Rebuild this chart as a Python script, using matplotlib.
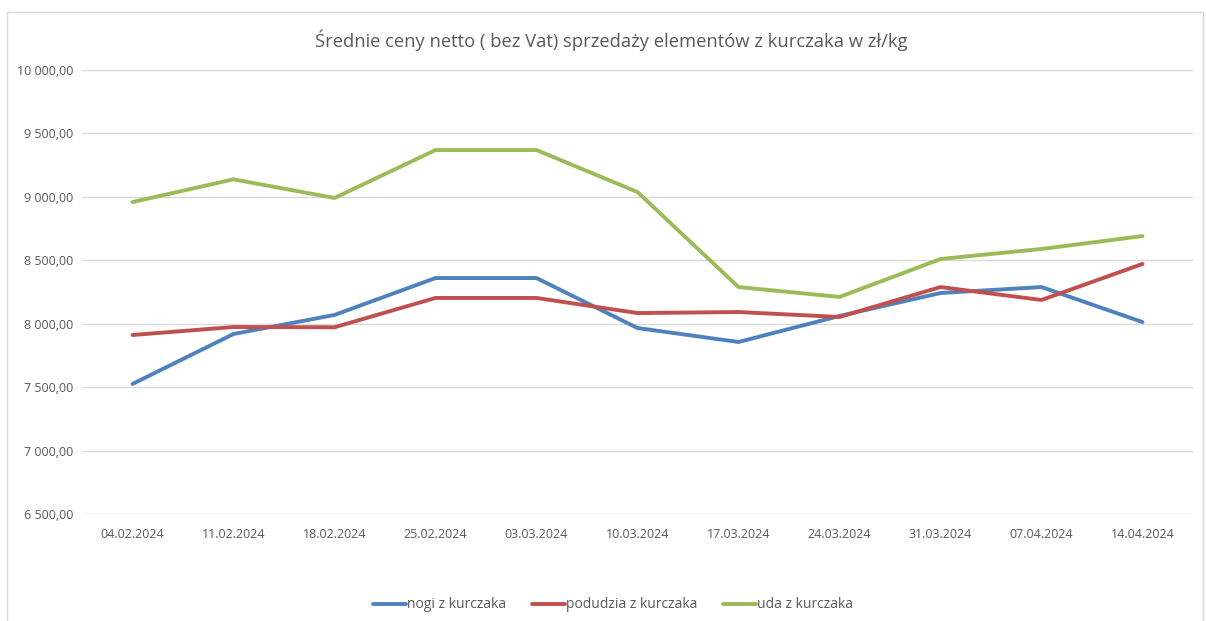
import matplotlib.pyplot as plt
from matplotlib.patches import Rectangle
from matplotlib.ticker import FuncFormatter

# weekly dates
dates = ['04.02.2024', '11.02.2024', '18.02.2024', '25.02.2024', '03.03.2024',
         '10.03.2024', '17.03.2024', '24.03.2024', '31.03.2024', '07.04.2024',
         '14.04.2024']

nogi = [7525, 7919, 8069, 8360, 8360, 7966, 7856, 8061, 8242, 8289, 8013]
podudzia = [7911, 7974, 7972, 8203, 8203, 8084, 8092, 8053, 8289, 8187, 8471]
uda = [8959, 9138, 8991, 9369, 9369, 9038, 8289, 8211, 8510, 8589, 8691]

plt.rcParams['font.family'] = ['Open Sans', 'DejaVu Sans']

fig = plt.figure(figsize=(12.06, 6.21), dpi=100)
ax = fig.add_axes([82 / 1206, 1 - 514 / 621, 1111 / 1206, 444 / 621])

# outer chart border (bottom edge is cut off in the original)
fig.patches.append(Rectangle((7 / 1206, -0.05), 1196 / 1206, 1.05 - 12 / 621,
                             transform=fig.transFigure, fill=False,
                             edgecolor='#D9D9D9', linewidth=1))

x = range(len(dates))
ax.plot(x, nogi, color='#4F81BD', lw=2.8, label='nogi z kurczaka', solid_capstyle='round')
ax.plot(x, podudzia, color='#C0504D', lw=2.8, label='podudzia z kurczaka', solid_capstyle='round')
ax.plot(x, uda, color='#9BBB59', lw=2.8, label='uda z kurczaka', solid_capstyle='round')

ax.set_xlim(-0.5, len(dates) - 0.5)
ax.set_ylim(6500, 10000)
ax.set_yticks(range(6500, 10001, 500))
ax.yaxis.set_major_formatter(FuncFormatter(
    lambda v, p: f'{v:,.2f}'.replace(',', ' ').replace('.', ',')))
ax.set_xticks(list(x))
ax.set_xticklabels(dates)

ax.grid(axis='y', color='#D9D9D9', lw=1)
ax.set_axisbelow(True)
for s in ax.spines.values():
    s.set_visible(False)
ax.tick_params(length=0, labelsize=9, colors='#595959')
ax.tick_params(axis='x', pad=10)
ax.tick_params(axis='y', pad=6)

fig.text(611 / 1206, 1 - 40 / 621, 'Średnie ceny netto ( bez Vat) sprzedaży elementów z kurczaka w zł/kg',
         ha='center', va='center', fontsize=13.2, color='#595959')

fig.legend(loc='center', bbox_to_anchor=(613 / 1206, 1 - 605 / 621), ncol=3, frameon=False,
           fontsize=10, labelcolor='#595959', handlelength=2.4, handletextpad=0.1,
           columnspacing=1.8)

fig.savefig('out.png', dpi=100)
